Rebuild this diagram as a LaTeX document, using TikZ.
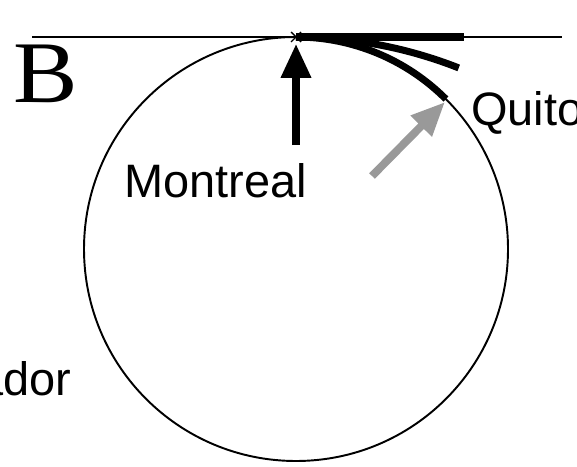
\documentclass[tikz,border=0pt]{standalone}
\usepackage{fontspec}
\setmainfont{Liberation Sans}
\newfontfamily\bfamily{Liberation Serif}
\usetikzlibrary{arrows.meta,calc}

\tikzset{
  thinline/.style={line width=1.1pt},
  heavyline/.style={line width=4pt, line cap=butt},
  place/.style={anchor=base west, inner sep=0pt, font=\fontsize{26.7pt}{32pt}\selectfont},
}

\begin{document}
\begin{tikzpicture}[x=0.02cm, y=-0.02cm, line join=round]
  \useasboundingbox (0,0) rectangle (577,466);
  \coordinate (O) at (296,249);
  \coordinate (T) at (296,37);
  \coordinate (L) at (32,37);
  \coordinate (R) at (562,37);
  \coordinate (H) at (464,37);
  \coordinate (M0) at (296,145);
  \coordinate (M1) at (296,44);
  \coordinate (Q0) at (372,176);
  \coordinate (Q1) at (445,102);
  \draw[thinline] (L) -- (R);
  \draw[thinline] (O) circle[radius=212];
  \draw[heavyline] (T) -- (H);
  \draw[heavyline] (T) arc[start angle=270, end angle=291.5, radius=444];
  \draw[heavyline] (T) arc[start angle=270, end angle=315, radius=212];
  \draw[line width=0.8pt] ($(T)+(-5,-5)$) -- ($(T)+(5,5)$);
  \draw[line width=0.8pt] ($(T)+(-5,5)$) -- ($(T)+(5,-5)$);
  \draw[line width=4pt, -{Triangle[length=0.68cm, width=0.58cm]}] (M0) -- (M1);
  \draw[line width=4.5pt, black!40, -{Triangle[length=0.68cm, width=0.56cm]}] (Q0) -- (Q1);
  \node[place] (montreal) at (124,197) {Montreal};
  \node[place] (quito) at (471,125) {Quito};
  \node[place, anchor=base east] (ecuador) at (72,395) {Ecuador};
  \node[anchor=base west, inner sep=0pt, xscale=1.1, font=\bfamily\fontsize{50pt}{58pt}\selectfont] (b) at (13,102) {B};
\end{tikzpicture}
\end{document}
